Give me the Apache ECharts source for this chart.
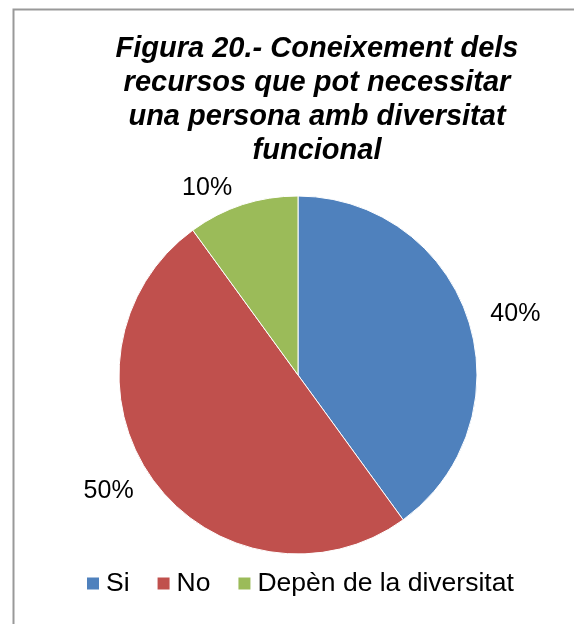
<!DOCTYPE html>
<html>
<head>
<meta charset="utf-8">
<script src="https://cdn.jsdelivr.net/npm/echarts@6/dist/echarts.min.js"></script>
<style>
  html, body { margin: 0; padding: 0; background: #fff; }
  #chart { width: 574px; height: 624px; }
</style>
</head>
<body>
<div id="chart"></div>
<script>
var categories = ['Si', 'No', 'Depèn de la diversitat'];
var values = [40, 50, 10];
var colors = ['#4F81BD', '#C0504D', '#9BBB59'];

var chart = echarts.init(document.getElementById('chart'));
var font = 'Liberation Sans, Arial, sans-serif';

var option = {
  animation: false,
  color: colors,
  title: {
    text: 'Figura 20.- Coneixement dels\nrecursos que pot necessitar\nuna persona amb diversitat\nfuncional',
    left: 312,
    top: 27,
    textAlign: 'center',
    textStyle: {
      fontFamily: font,
      fontSize: 29,
      fontWeight: 'bold',
      fontStyle: 'italic',
      lineHeight: 34,
      color: '#000'
    }
  },
  graphic: [{
    type: 'rect',
    shape: { x: 13.5, y: 9.5, width: 700, height: 700 },
    style: { fill: 'none', stroke: '#999', lineWidth: 2 },
    silent: true
  }],
  legend: {
    data: categories,
    bottom: 27,
    left: 85,
    icon: 'rect',
    itemWidth: 14,
    itemHeight: 14,
    itemGap: 26,
    textStyle: { fontFamily: font, fontSize: 26.5, color: '#000', padding: [0, 0, 0, 1] },
    padding: 0
  },
  series: [{
    type: 'pie',
    center: [298, 375],
    radius: 179,
    startAngle: 90,
    clockwise: true,
    data: categories.map((c, i) => ({ name: c, value: values[i] })),
    itemStyle: { borderColor: '#fff', borderWidth: 1 },
    label: {
      position: 'outside',
      formatter: '{c}%',
      fontFamily: font,
      fontSize: 25,
      color: '#000'
    },
    labelLine: { show: false, length: 18, length2: 0 },
    emphasis: { disabled: true }
  }]
};

chart.setOption(option);
</script>
</body>
</html>
